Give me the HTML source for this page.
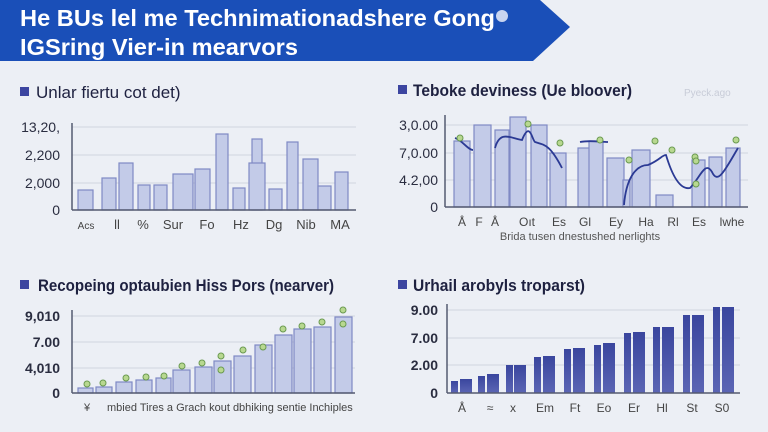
<!DOCTYPE html>
<html><head><meta charset="utf-8"><style>
html,body{margin:0;padding:0;background:#eceff5;}
svg{display:block;font-family:"Liberation Sans",sans-serif;}
</style></head><body>
<svg width="768" height="432" viewBox="0 0 768 432" xmlns="http://www.w3.org/2000/svg">
<rect width="768" height="432" fill="#eceff5"/>
<polygon points="0,0 540,0 570,27 533,61 0,61" fill="#1a4fb8"/>
<text x="20" y="26" font-size="23" font-weight="bold" fill="#fff" textLength="475" lengthAdjust="spacingAndGlyphs">He BUs lel me Technimationadshere Gong</text>
<circle cx="502" cy="16" r="6" fill="#c8d4f0"/>
<text x="20" y="55" font-size="23" font-weight="bold" fill="#fff" textLength="278" lengthAdjust="spacingAndGlyphs">IGSring Vier-in mearvors</text>

<g font-size="17" fill="#1e2140">
<rect x="20" y="87" width="9" height="9" fill="#3c45a0"/><text x="36" y="98">Unlar fiertu cot det)</text>
<rect x="398" y="85" width="9" height="9" fill="#3c45a0"/><text x="413" y="96" font-weight="bold" textLength="219" lengthAdjust="spacingAndGlyphs">Teboke deviness (Ue bloover)</text>
<rect x="20" y="280" width="9" height="9" fill="#3c45a0"/><text x="38" y="291" font-weight="bold" textLength="296" lengthAdjust="spacingAndGlyphs">Recopeing optaubien Hiss Pors (nearver)</text>
<rect x="398" y="280" width="9" height="9" fill="#3c45a0"/><text x="413" y="291" font-weight="bold" textLength="172" lengthAdjust="spacingAndGlyphs">Urhail arobyls troparst)</text>
</g>
<text x="684" y="96" font-size="10" fill="#c8ccd8">Pyeck.ago</text>

<!-- chart 1 -->
<g stroke="#d0d4de" stroke-width="1"><line x1="72" y1="127" x2="356" y2="127"/><line x1="72" y1="155" x2="356" y2="155"/><line x1="72" y1="183" x2="356" y2="183"/></g>
<g fill="#c3cbe8" stroke="#7f89c4" stroke-width="1.2">
<rect x="78" y="190" width="15" height="20"/><rect x="102" y="178" width="14" height="32"/><rect x="119" y="163" width="14" height="47"/><rect x="138" y="185" width="12" height="25"/><rect x="154" y="185" width="13" height="25"/><rect x="173" y="174" width="20" height="36"/><rect x="195" y="169" width="15" height="41"/><rect x="216" y="134" width="12" height="76"/><rect x="233" y="188" width="12" height="22"/><rect x="252" y="139" width="10" height="71"/><rect x="249" y="163" width="16" height="47"/><rect x="269" y="189" width="13" height="21"/><rect x="287" y="142" width="11" height="68"/><rect x="303" y="159" width="15" height="51"/><rect x="318" y="186" width="13" height="24"/><rect x="335" y="172" width="13" height="38"/>
</g>
<g stroke="#555a70" stroke-width="1.5"><line x1="72" y1="123" x2="72" y2="210"/><line x1="72" y1="210" x2="356" y2="210"/></g>
<g font-size="14" fill="#2a2d40" text-anchor="end"><text x="60" y="132">13,20,</text><text x="60" y="160">2,200</text><text x="60" y="188">2,000</text><text x="60" y="215">0</text></g>
<g font-size="13" fill="#444" text-anchor="middle"><text x="86" y="229" font-size="10">Acs</text><text x="117" y="229">ll</text><text x="143" y="229">%</text><text x="173" y="229">Sur</text><text x="207" y="229">Fo</text><text x="241" y="229">Hz</text><text x="274" y="229">Dg</text><text x="306" y="229">Nib</text><text x="340" y="229">MA</text></g>

<!-- chart 2 -->
<g stroke="#d0d4de"><line x1="445" y1="125" x2="748" y2="125"/><line x1="445" y1="153" x2="748" y2="153"/><line x1="445" y1="180" x2="748" y2="180"/></g>
<g fill="#c3cbe8" stroke="#7f89c4" stroke-width="1.2">
<rect x="454" y="141" width="16" height="66"/><rect x="474" y="125" width="17" height="82"/><rect x="495" y="130" width="14" height="77"/><rect x="510" y="117" width="16" height="90"/><rect x="531" y="125" width="16" height="82"/><rect x="550" y="153" width="16" height="54"/><rect x="578" y="148" width="12" height="59"/><rect x="589" y="141" width="14" height="66"/><rect x="607" y="158" width="17" height="49"/><rect x="623" y="180" width="7" height="27"/><rect x="632" y="150" width="18" height="57"/><rect x="656" y="195" width="17" height="12"/><rect x="692" y="160" width="13" height="47"/><rect x="709" y="157" width="13" height="50"/><rect x="726" y="148" width="14" height="59"/>
</g>
<path d="M455,138 C462,140 468,150 473,150 M495,148 C500,130 510,138 522,140 C530,120 532,140 535,142 C545,145 550,145 562,168 M580,142 C590,140 600,142 608,142 M624,205 C626,180 635,165 648,165 C660,160 662,155 666,155 C672,175 680,190 690,188 C700,178 705,160 712,172 C718,185 725,170 738,148" fill="none" stroke="#2b3a94" stroke-width="1.8"/>
<g fill="#b8d890" stroke="#6a9a50" stroke-width="1"><circle cx="460" cy="138" r="3"/><circle cx="528" cy="124" r="3"/><circle cx="560" cy="143" r="3"/><circle cx="600" cy="140" r="3"/><circle cx="629" cy="160" r="3"/><circle cx="655" cy="141" r="3"/><circle cx="672" cy="150" r="3"/><circle cx="695" cy="157" r="3"/><circle cx="696" cy="184" r="3"/><circle cx="736" cy="140" r="3"/><circle cx="696" cy="161" r="3"/></g>
<g stroke="#555a70" stroke-width="1.5"><line x1="445" y1="115" x2="445" y2="207"/><line x1="445" y1="207" x2="748" y2="207"/></g>
<g font-size="14" fill="#2a2d40" text-anchor="end"><text x="438" y="130">3,0.00</text><text x="438" y="158">7,0.00</text><text x="438" y="185">4.2,00</text><text x="438" y="212">0</text></g>
<g font-size="12" fill="#444" text-anchor="middle"><text x="462" y="226">Å</text><text x="479" y="226">F</text><text x="495" y="226">Å</text><text x="527" y="226">Oıt</text><text x="559" y="226">Es</text><text x="585" y="226">Gl</text><text x="616" y="226">Ey</text><text x="646" y="226">Ha</text><text x="673" y="226">Rl</text><text x="699" y="226">Es</text><text x="732" y="226">lwhe</text></g>
<text x="580" y="240" font-size="11" fill="#555" text-anchor="middle">Brida tusen dnestushed nerlights</text>

<!-- chart 3 -->
<g stroke="#d0d4de"><line x1="72" y1="316" x2="355" y2="316"/><line x1="72" y1="342" x2="355" y2="342"/><line x1="72" y1="368" x2="355" y2="368"/></g>
<g fill="#c3cbe8" stroke="#7f89c4" stroke-width="1.2">
<rect x="78" y="388" width="15" height="5"/><rect x="96" y="387" width="16" height="6"/><rect x="116" y="382" width="16" height="11"/><rect x="136" y="380" width="16" height="13"/><rect x="156" y="378" width="15" height="15"/><rect x="173" y="370" width="17" height="23"/><rect x="195" y="367" width="17" height="26"/><rect x="214" y="361" width="17" height="32"/><rect x="234" y="356" width="17" height="37"/><rect x="255" y="345" width="17" height="48"/><rect x="275" y="335" width="17" height="58"/><rect x="294" y="329" width="17" height="64"/><rect x="314" y="327" width="17" height="66"/><rect x="335" y="317" width="17" height="76"/>
</g>
<g fill="#b8d890" stroke="#6a9a50"><circle cx="87" cy="384" r="3"/><circle cx="103" cy="383" r="3"/><circle cx="126" cy="378" r="3"/><circle cx="146" cy="377" r="3"/><circle cx="164" cy="376" r="3"/><circle cx="182" cy="366" r="3"/><circle cx="202" cy="363" r="3"/><circle cx="221" cy="356" r="3"/><circle cx="221" cy="370" r="3"/><circle cx="243" cy="350" r="3"/><circle cx="263" cy="347" r="3"/><circle cx="283" cy="329" r="3"/><circle cx="302" cy="326" r="3"/><circle cx="322" cy="322" r="3"/><circle cx="343" cy="310" r="3"/><circle cx="343" cy="324" r="3"/></g>
<g stroke="#555a70" stroke-width="1.5"><line x1="72" y1="310" x2="72" y2="393"/><line x1="72" y1="393" x2="355" y2="393"/></g>
<g font-size="14" fill="#2a2d40" text-anchor="end" font-weight="bold"><text x="60" y="321">9,010</text><text x="60" y="347">7.00</text><text x="60" y="373">4,010</text><text x="60" y="398">0</text></g>
<text x="84" y="411" font-size="11" fill="#444">¥</text>
<text x="107" y="411" font-size="11" fill="#444">mbied Tires a Grach kout dbhiking sentie Inchiples</text>

<!-- chart 4 -->
<g stroke="#d0d4de"><line x1="447" y1="310" x2="740" y2="310"/><line x1="447" y1="338" x2="740" y2="338"/><line x1="447" y1="365" x2="740" y2="365"/></g>
<defs><linearGradient id="g" x1="0" y1="0" x2="0" y2="1"><stop offset="0" stop-color="#3a469e"/><stop offset="1" stop-color="#5b65b4"/></linearGradient></defs>
<g fill="url(#g)">
<rect x="451" y="381" width="7" height="12"/><rect x="460" y="379" width="12" height="14"/>
<rect x="478" y="376" width="7" height="17"/><rect x="487" y="374" width="12" height="19"/>
<rect x="506" y="365" width="7" height="28"/><rect x="514" y="365" width="12" height="28"/>
<rect x="534" y="357" width="7" height="36"/><rect x="543" y="356" width="12" height="37"/>
<rect x="564" y="349" width="7" height="44"/><rect x="573" y="348" width="12" height="45"/>
<rect x="594" y="345" width="7" height="48"/><rect x="603" y="343" width="12" height="50"/>
<rect x="624" y="333" width="7" height="60"/><rect x="633" y="332" width="12" height="61"/>
<rect x="653" y="327" width="7" height="66"/><rect x="662" y="327" width="12" height="66"/>
<rect x="683" y="315" width="7" height="78"/><rect x="692" y="315" width="12" height="78"/>
<rect x="713" y="307" width="7" height="86"/><rect x="722" y="307" width="12" height="86"/>
</g>
<g stroke="#555a70" stroke-width="1.5"><line x1="447" y1="304" x2="447" y2="393"/><line x1="447" y1="393" x2="740" y2="393"/></g>
<g font-size="14" fill="#2a2d40" text-anchor="end" font-weight="bold"><text x="438" y="315">9.00</text><text x="438" y="343">7.00</text><text x="438" y="370">2.00</text><text x="438" y="398">0</text></g>
<g font-size="12" fill="#444" text-anchor="middle"><text x="462" y="412">Å</text><text x="490" y="412">≈</text><text x="513" y="412">x</text><text x="545" y="412">Em</text><text x="575" y="412">Ft</text><text x="604" y="412">Eo</text><text x="634" y="412">Er</text><text x="662" y="412">Hl</text><text x="692" y="412">St</text><text x="722" y="412">S0</text></g>
</svg>
</body></html>
